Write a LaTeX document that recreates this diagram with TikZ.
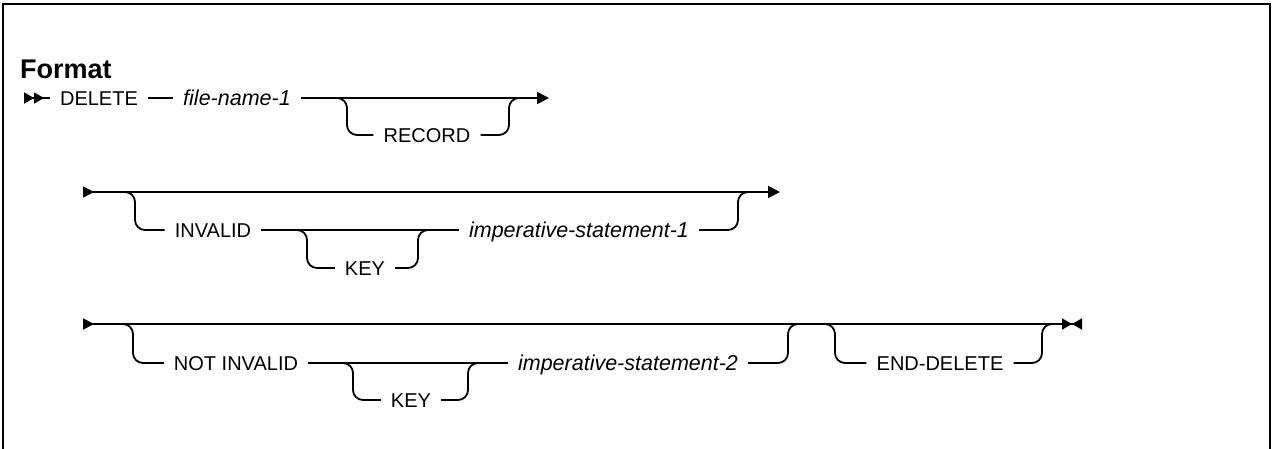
\documentclass[tikz,border=0pt]{standalone}
\usepackage{fontspec}
\setmainfont{Liberation Sans}
\usetikzlibrary{arrows.meta, positioning, calc}
\tikzset{
	kw/.style    ={inner ysep=0pt, inner xsep=10pt, text height=15pt, text depth=1pt, font=\fontsize{20}{24}\selectfont},
	var/.style   ={kw, font=\fontsize{21.5}{25}\selectfont\itshape},
	rail/.style  ={line width=1.8pt},
	branch/.style={rail, rounded corners=10pt},
	% start and end marks of a syntax line
	railfirst/.style={rail, {Triangle[reversed, length=10pt, width=11pt] Triangle[reversed, length=10pt, width=11pt]}-},
	railout/.style  ={rail, -{Triangle[length=12pt, width=12pt]}},
	railmid/.style  ={rail, {Triangle[reversed, length=11pt, width=11pt]}-{Triangle[length=12pt, width=12pt]}},
	raillast/.style ={rail, {Triangle[reversed, length=11pt, width=11pt]}-{Triangle[length=10pt, width=11pt] Triangle[reversed, length=10pt, width=11pt]}},
}
\begin{document}
\begin{tikzpicture}[x=1pt, y=-1pt]
	\useasboundingbox (0,0) rectangle (1273,448);
	\draw[line width=2.8pt] (3,470) -- (3,4) -- (1270,4) -- (1270,470);
	\node[anchor=west, inner sep=0pt, font=\bfseries\fontsize{27}{32}\selectfont] (title) at (20,69) {Format};

	% first line
	\coordinate (s1) at (24,98);
	\node[kw] (del) at (99,98) {DELETE};
	\node[var] (fn1) at (237,98) {file-name-1};
	\coordinate (e1) at (549,98);
	\node[kw] (rec) at (427,135) {RECORD};
	\coordinate (r1a) at (347,98);
	\coordinate (r1b) at (509,98);
	\draw[railfirst] (s1) -- (del);
	\draw[rail] (del) -- (fn1);
	\draw[railout] (fn1) -- (e1);
	\draw[branch] ([xshift=-10pt]r1a) -- (r1a) |- (rec);
	\draw[branch] (rec) -| (r1b) -- ++(10,0);

	% second line
	\coordinate (s2) at (83,192);
	\coordinate (e2) at (780,192);
	\node[kw] (inv) at (213,230) {INVALID};
	\node[kw] (key1) at (365,268) {KEY};
	\node[var] (imp1) at (579,230) {imperative-statement-1};
	\coordinate (b2a) at (135,192);
	\coordinate (b2b) at (738,192);
	\coordinate (k1a) at (307,230);
	\coordinate (k1b) at (418,230);
	\draw[railmid] (s2) -- (e2);
	\draw[branch] ([xshift=-10pt]b2a) -- (b2a) |- (inv);
	\draw[rail] (inv) -- (imp1);
	\draw[branch] ([xshift=-10pt]k1a) -- (k1a) |- (key1);
	\draw[branch] (key1) -| (k1b) -- ++(10,0);
	\draw[branch] (imp1) -| (b2b) -- ++(10,0);

	% third line
	\coordinate (s3) at (83,324);
	\coordinate (e3) at (1082,324);
	\node[kw] (ninv) at (236,363) {NOT INVALID};
	\node[kw] (key2) at (411,400) {KEY};
	\node[var] (imp2) at (628,363) {imperative-statement-2};
	\node[kw] (edel) at (940,363) {END-DELETE};
	\coordinate (b3a) at (133,324);
	\coordinate (b3b) at (788,324);
	\coordinate (k2a) at (353,363);
	\coordinate (k2b) at (468,363);
	\coordinate (d3a) at (835,324);
	\coordinate (d3b) at (1042,324);
	\draw[raillast] (s3) -- (e3);
	\draw[branch] ([xshift=-10pt]b3a) -- (b3a) |- (ninv);
	\draw[rail] (ninv) -- (imp2);
	\draw[branch] ([xshift=-10pt]k2a) -- (k2a) |- (key2);
	\draw[branch] (key2) -| (k2b) -- ++(10,0);
	\draw[branch] (imp2) -| (b3b) -- ++(10,0);
	\draw[branch] ([xshift=-10pt]d3a) -- (d3a) |- (edel);
	\draw[branch] (edel) -| (d3b) -- ++(10,0);
\end{tikzpicture}
\end{document}
